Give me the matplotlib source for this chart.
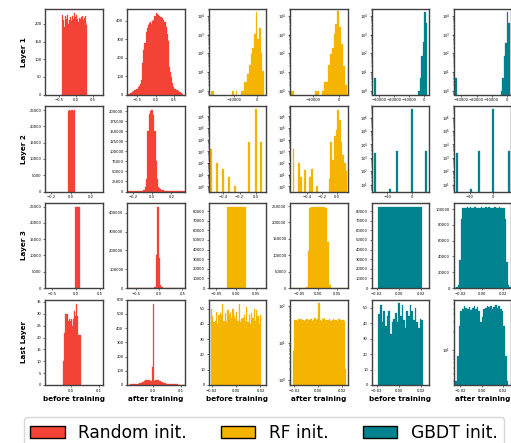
import numpy as np
import matplotlib.pyplot as plt
from matplotlib.patches import Patch

RED = '#f44336'
YELLOW = '#f4b400'
TEAL = '#00838f'

row_names = ['Layer 1', 'Layer 2', 'Layer 3', 'Last Layer']
col_names = ['before training', 'after training'] * 3
legend_names = ['Random init.', 'RF init.', 'GBDT init.']

# ---------- Layer 1 (histograms: range + counts per bin) ----------
l1_rand_before_range = (-0.40, 0.34)
l1_rand_before = [225, 210, 190, 222, 205, 215, 226, 200, 212, 220, 198, 208, 222, 215, 231,
                  218, 210, 224, 214, 205, 216, 215, 210, 218, 222, 212, 216, 222, 205, 196]
l1_rand_after_range = (-0.75, 0.75)
l1_rand_after = [2, 4, 6, 10, 15, 20, 24, 28, 32, 38, 45, 55, 78, 170, 240, 280, 340, 360, 376, 388,
                 395, 382, 398, 404, 425, 443, 438, 431, 425, 422, 418, 413, 405, 390, 367, 330, 290,
                 150, 120, 95, 60, 38, 30, 25, 22, 18, 14, 12, 8, 5]
l1_rf_before_range = (-20300, 2900)
l1_rf_before = [1, 1, 0, 0, 0, 0, 0, 0, 0, 0, 0, 0, 0, 1, 0, 1, 0, 0, 1, 1, 3, 3, 8, 25, 90, 190,
                1100, 15000, 600, 2200, 100, 12]
l1_rf_after_range = (-18850, 2900)
l1_rf_after = [1, 1, 0, 0, 0, 0, 0, 0, 0, 0, 0, 0, 0, 1, 1, 0, 0, 1, 3, 3, 25, 90, 190, 1100, 3800,
               18000, 2500, 300, 20, 2]
l1_gbdt_before_range = (-33000, 3000)
l1_gbdt_before = [5, 0, 0, 0, 0, 0, 0, 0, 0, 0, 0, 0, 0, 0, 0, 0, 0, 0, 0, 0, 0, 0, 0, 0, 0, 0, 0, 0,
                  0, 1, 5, 68, 400, 15000, 4000, 0]
l1_gbdt_after_range = (-34000, 3000)
l1_gbdt_after = [5, 0, 0, 0, 0, 0, 0, 0, 0, 0, 0, 0, 0, 0, 0, 0, 0, 0, 0, 0, 0, 0, 0, 0, 0, 0, 0, 0,
                 0, 0, 1, 5, 68, 370, 15000, 4000, 0]

# ---------- Layer 2 ----------
l2_rand_before_range = (-0.03, 0.04)
l2_rand_before = [24900, 24950, 24880, 24920, 24960, 24900, 24930]
l2_rand_after_range = (-0.252, 0.336)
l2_rand_after = [400, 450, 500, 550, 600, 650, 700, 800, 900, 1000, 1200, 1500, 2000, 2800, 4000,
                 12000, 30000, 150000, 193000, 201000, 204000, 203000, 190000, 150000, 77000, 30000,
                 12000, 8000, 5000, 3000, 2500, 2000, 1600, 1300, 1100, 1000, 900, 800, 700, 600,
                 550, 500, 450, 400, 350, 300, 300, 250, 200]
# discrete values: bar positions + counts
l2_rf_before_pos = [-0.55, -0.48, -0.41, -0.33, -0.26, -0.08, 0.0, 0.065]
l2_rf_before = [1600, 110, 30, 6, 1, 7000, 4e6, 6500]
l2_rf_after_pos = [-0.58, -0.505, -0.48, -0.42, -0.36, -0.335, -0.265, -0.094, -0.071, -0.049,
                   -0.026, -0.003, 0.020, 0.043, 0.065, 0.088, 0.111, 0.134]
l2_rf_after = [1600, 100, 6, 25, 6, 30, 1, 4, 7000, 200, 2e4, 7e4, 3.5e6, 5e5, 7000, 500, 100, 20]
l2_gbdt_before_pos = [-14.7, -9.0, -6.0, 0.0, 5.8]
l2_gbdt_before = [2200, 5, 3000, 4e6, 3000]
l2_gbdt_after_pos = [-15.6, -9.4, -6.2, 0.0, 6.6]
l2_gbdt_after = [2200, 5, 3000, 4e6, 3000]

# ---------- Layer 3 ----------
l3_rand_before_range = (-0.02, 0.07)
l3_rand_before = [24950, 24980, 24900, 24960]
l3_rand_after_range = (-0.70, 0.55)
l3_rand_after = [1200, 1300, 1250, 1400, 1300, 1350, 1500, 1400, 1450, 1500, 1600, 1500, 1550, 1700,
                 1600, 1650, 1700, 1800, 1750, 1900, 2000, 2100, 2300, 2600, 3000, 174000, 433000,
                 430000, 162000, 16000, 2800, 2300, 2100, 2000, 1900, 1800, 1750, 1700, 1650, 1600,
                 1550, 1500, 1450, 1400, 1350, 1300, 1300, 1250, 1200, 1200]
l3_rf_before_range = (-0.023, 0.0246)
l3_rf_before = [84200, 84600, 84400, 84500, 84300, 84700, 84400, 84200, 84500, 84600,
                84300, 84400, 84500, 84200, 84600, 84400, 84300, 84500, 84400, 84600]
l3_rf_after_range = (-0.0752, 0.0752)
l3_rf_after = [1200, 1300, 1250, 1400, 1350, 1300, 1450, 1400, 1500, 3000, 114000, 243000,
               248000, 247500, 248200, 247800, 248000, 247600, 248100, 247900, 244000, 141000,
               9000, 1500, 1400, 1450, 1350, 1300, 1400, 1250, 1300, 1200]
l3_gbdt_before_range = (-0.019, 0.021)
l3_gbdt_before = [84100, 84300, 83900, 84200, 84400, 84000, 84300, 84100, 84500, 84200,
                  84000, 84300, 84400, 84100, 84200, 84000, 84300, 84200, 84400, 84100]
l3_gbdt_after_range = (-0.025, 0.0268)
l3_gbdt_after = [500, 1000, 4000, 35000, 88000, 101800, 102100, 101500, 102300, 101900, 102200,
                 101600, 102000, 102400, 101700, 102100, 101800, 102300, 101500, 102000, 102200,
                 101900, 102400, 101600, 102100, 101800, 102300, 101700, 102000, 102200, 101900,
                 101600, 101000, 88000, 33000, 4000, 1000]

# ---------- Last layer ----------
l4_rand_before_range = (-0.0286, 0.0346)
l4_rand_before = [10, 22, 30, 30, 26, 30, 27, 28, 27, 28, 25, 28, 31, 27, 29, 34, 29, 21, 21, 21]
l4_rand_after_range = (-0.092, 0.112)
l4_rand_after = [2, 3, 3, 4, 4, 5, 5, 6, 7, 8, 10, 12, 14, 18, 22, 28, 32, 34, 35, 33, 30, 28,
                 125, 570, 30, 32, 34, 33, 30, 26, 22, 18, 15, 13, 11, 10, 9, 8, 7, 6, 6, 5, 5,
                 4, 4, 3, 3, 3, 2, 2, 2]
l4_rf_before_range = (-0.0205, 0.0205)
l4_rf_before = [50, 45, 41, 42, 48, 40, 46, 47, 46, 53, 42, 47, 41, 49, 46, 47, 44, 50, 45, 43,
                48, 42, 53, 41, 43, 44, 46, 42, 51, 41, 46, 40, 47, 44, 50, 42, 49, 45, 40, 46]
l4_rf_after_range = (-0.021, 0.0235)
l4_rf_after = [6, 40, 42, 38, 44, 41, 43, 40, 39, 42, 44, 40, 41, 43, 38, 42, 45, 40, 44, 117,
               42, 39, 43, 45, 41, 40, 42, 44, 38, 41, 43, 40, 42, 39, 44, 41, 40, 42, 38, 2]
l4_gbdt_before_range = (-0.0185, 0.0215)
l4_gbdt_before = [46, 52, 41, 48, 38, 45, 48, 33, 41, 43, 47, 41, 53, 45, 52, 42, 37, 48, 45, 52,
                  48, 42, 50, 41, 37, 43, 42]
l4_gbdt_after_range = (-0.0245, 0.026)
l4_gbdt_after = [3, 8, 25, 45, 50, 55, 52, 50, 54, 48, 52, 55, 50, 53, 45, 30, 36, 50, 52, 55, 53,
                 56, 50, 54, 57, 52, 55, 50, 45, 25, 8, 3, 2]

# panel spec: (kind, data..., color, log, xlim, xticks, ylim, ystep)
panels = [
    [('hist', l1_rand_before_range, l1_rand_before, RED, False, (-0.91, 0.79), [-0.5, 0, 0.5], (0, 242), 50),
     ('hist', l1_rand_after_range, l1_rand_after, RED, False, (-0.77, 0.78), [-0.5, 0, 0.5], (0, 463), 100),
     ('hist', l1_rf_before_range, l1_rf_before, YELLOW, True, (-21300, 3800), [-10000, 0], (0.63, 2.3e4), None),
     ('hist', l1_rf_after_range, l1_rf_after, YELLOW, True, (-19000, 3200), [-10000, 0], (0.63, 2.3e4), None),
     ('hist', l1_gbdt_before_range, l1_gbdt_before, TEAL, True, (-34800, 3000), [-30000, -20000, -10000, 0], (0.63, 2.3e4), None),
     ('hist', l1_gbdt_after_range, l1_gbdt_after, TEAL, True, (-35300, 2900), [-30000, -20000, -10000, 0], (0.63, 2.3e4), None)],
    [('hist', l2_rand_before_range, l2_rand_before, RED, False, (-0.257, 0.316), [-0.2, 0, 0.2], (0, 26300), 5000),
     ('hist', l2_rand_after_range, l2_rand_after, RED, False, (-0.26, 0.335), [-0.2, 0, 0.2], (0, 213000), 25000),
     ('bar', (l2_rf_before_pos, 0.024), l2_rf_before, YELLOW, True, (-0.585, 0.127), [-0.4, -0.2, 0.0], (0.37, 7.9e6), None),
     ('bar', (l2_rf_after_pos, 0.023), l2_rf_after, YELLOW, True, (-0.626, 0.146), [-0.4, -0.2, 0.0], (0.37, 7.9e6), None),
     ('bar', (l2_gbdt_before_pos, 0.8), l2_gbdt_before, TEAL, True, (-16.3, 6.9), [-10, 0], (3.2, 7.2e6), None),
     ('bar', (l2_gbdt_after_pos, 0.85), l2_gbdt_after, TEAL, True, (-17, 7.6), [-10, 0], (3.2, 7.2e6), None)],
    [('hist', l3_rand_before_range, l3_rand_before, RED, False, (-0.65, 0.55), [-0.5, 0, 0.5], (0, 26300), 5000),
     ('hist', l3_rand_after_range, l3_rand_after, RED, False, (-0.69, 0.545), [-0.5, 0, 0.5], (0, 455000), 100000),
     ('hist', l3_rf_before_range, l3_rf_before, YELLOW, False, (-0.0685, 0.076), [-0.05, 0, 0.05], (0, 89000), 10000),
     ('hist', l3_rf_after_range, l3_rf_after, YELLOW, False, (-0.0745, 0.077), [-0.05, 0, 0.05], (0, 261000), 50000),
     ('hist', l3_gbdt_before_range, l3_gbdt_before, TEAL, False, (-0.0248, 0.027), [-0.02, 0, 0.02], (0, 89000), 10000),
     ('hist', l3_gbdt_after_range, l3_gbdt_after, TEAL, False, (-0.0262, 0.027), [-0.02, 0, 0.02], (0, 108500), 20000)],
    [('hist', l4_rand_before_range, l4_rand_before, RED, False, (-0.093, 0.112), [0.0, 0.1], (0, 36), 5),
     ('hist', l4_rand_after_range, l4_rand_after, RED, False, (-0.092, 0.112), [0.0, 0.1], (0, 600), 100),
     ('hist', l4_rf_before_range, l4_rf_before, YELLOW, False, (-0.0225, 0.0245), [-0.02, 0, 0.02], (0, 56), 10),
     ('hist', l4_rf_after_range, l4_rf_after, YELLOW, True, (-0.0236, 0.0245), [-0.02, 0, 0.02], (0.74, 145), None),
     ('hist', l4_gbdt_before_range, l4_gbdt_before, TEAL, False, (-0.0248, 0.027), [-0.02, 0, 0.02], (0, 55.5), 10),
     ('hist', l4_gbdt_after_range, l4_gbdt_after, TEAL, True, (-0.0262, 0.027), [-0.02, 0, 0.02], (2.6, 71), None)],
]

W, H = 511, 443
fig = plt.figure(figsize=(W / 100, H / 100), dpi=100)

col_left = [45, 127, 208.5, 290, 371.5, 453.5]
row_top = [9, 106, 202.5, 299.5]
aw, ah = 57.5, 85.5

for r in range(4):
    for c in range(6):
        kind, spec, counts, color, log, xlim, xticks, ylim, ystep = panels[r][c]
        ax = fig.add_axes([col_left[c] / W, 1 - (row_top[r] + ah) / H, aw / W, ah / H])
        if kind == 'hist':
            edges = np.linspace(spec[0], spec[1], len(counts) + 1)
            ax.hist(edges[:-1], bins=edges, weights=counts, color=color, log=log,
                    edgecolor=color, linewidth=0.2)
        else:
            pos, width = spec
            ax.bar(pos, counts, width=width, color=color, log=log, edgecolor=color, linewidth=0.2)
        ax.set_xlim(*xlim)
        ax.set_xticks(xticks)
        ax.set_ylim(*ylim)
        if ystep:
            ax.yaxis.set_major_locator(plt.MultipleLocator(ystep))
        ax.tick_params(labelsize=2.7, length=1.6, width=0.4, pad=1)
        ax.tick_params(which='minor', length=0.9, width=0.3)
        for s in ax.spines.values():
            s.set_linewidth(1.0)
            s.set_color('#404040')

for r, name in enumerate(row_names):
    fig.text(24 / W, 1 - (row_top[r] + ah / 2) / H, name, rotation=90, ha='center',
             va='center', fontsize=5.2, fontweight='bold')
for c, name in enumerate(col_names):
    fig.text((col_left[c] + aw / 2) / W, 1 - 399 / H, name, ha='center', va='center',
             fontsize=5.2, fontweight='bold')

handles = [Patch(facecolor=col, edgecolor='black', linewidth=1.0) for col in (RED, YELLOW, TEAL)]
fig.legend(handles, legend_names, loc='upper center', bbox_to_anchor=(264 / W, 1 - 417 / H),
           ncol=3, fontsize=12.3, handlelength=2.0, columnspacing=2.0, frameon=True,
           borderaxespad=0.0)

fig.savefig('out.png', dpi=100)
